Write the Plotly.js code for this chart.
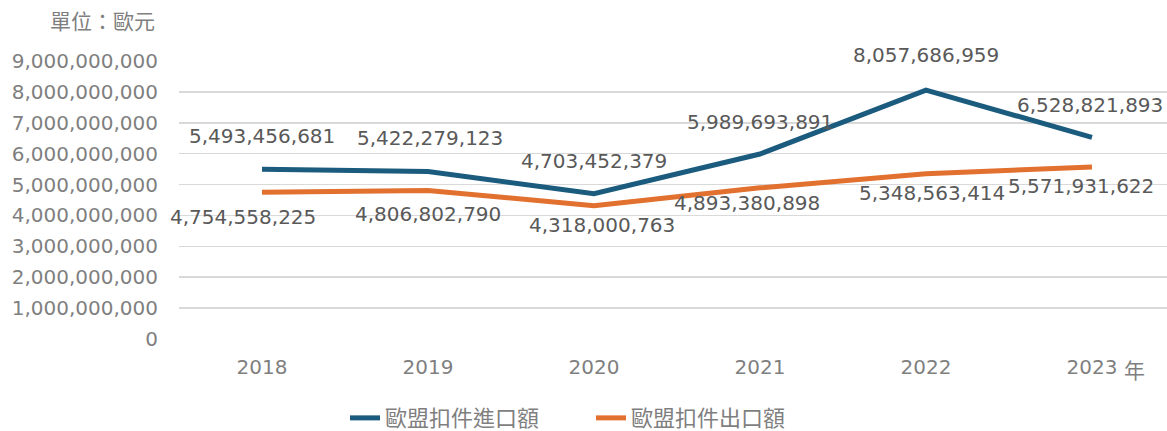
<!DOCTYPE html>
<html>
<head>
<meta charset="utf-8">
<script src="https://cdn.plot.ly/plotly-3.0.1.min.js"></script>
<style>html,body{margin:0;padding:0;background:#fff;}#chart{width:1167px;height:431px;}</style>
</head>
<body>
<div id="chart"></div>
<script>
const years = ['2018', '2019', '2020', '2021', '2022', '2023'];
const importValues = [5493456681, 5422279123, 4703452379, 5989693891, 8057686959, 6528821893];
const exportValues = [4754558225, 4806802790, 4318000763, 4893380898, 5348563414, 5571931622];
const importName = '歐盟扣件進口額';
const exportName = '歐盟扣件出口額';
const yTicks = [0, 1e9, 2e9, 3e9, 4e9, 5e9, 6e9, 7e9, 8e9, 9e9];

// label offsets (px)
const importLabelDx = [0, 2, 0, 0, 0, -2];
const importLabelDy = [33, 34, 33, 32, 35, 32];
const exportLabelDx = [-19, 0, 8, -13, 6, -11];
const exportLabelDy = [-25, -23, -19, -15, -19, -19];

const numFont = 'DejaVu Sans, Noto Sans CJK TC, sans-serif';
const cjkFont = 'Noto Sans CJK TC, DejaVu Sans, sans-serif';
const fmt = v => v.toLocaleString('en-US');

const traces = [
  {x: years, y: importValues, name: importName, type: 'scatter', mode: 'lines',
   line: {color: '#1A5B7E', width: 5}, hoverinfo: 'skip'},
  {x: years, y: exportValues, name: exportName, type: 'scatter', mode: 'lines',
   line: {color: '#E2702F', width: 5}, hoverinfo: 'skip'}
];

const annotations = [];
years.forEach((yr, i) => {
  annotations.push({x: i, y: importValues[i], xref: 'x', yref: 'y', text: fmt(importValues[i]),
    showarrow: false, xshift: importLabelDx[i], yshift: importLabelDy[i],
    font: {family: numFont, size: 20, color: '#595959'}});
  annotations.push({x: i, y: exportValues[i], xref: 'x', yref: 'y', text: fmt(exportValues[i]),
    showarrow: false, xshift: exportLabelDx[i], yshift: exportLabelDy[i],
    font: {family: numFont, size: 20, color: '#595959'}});
});
annotations.push({xref: 'paper', yref: 'paper', x: -0.0223, y: 1.1475, xanchor: 'right', yanchor: 'middle',
  text: '單位：歐元', showarrow: false, font: {family: cjkFont, size: 21, color: '#7F7F7F'}});
annotations.push({xref: 'paper', yref: 'paper', x: 0.9666, y: -0.108, xanchor: 'center', yanchor: 'middle',
  text: '年', showarrow: false, font: {family: cjkFont, size: 21, color: '#7F7F7F'}});

const layout = {
  width: 1167, height: 431,
  margin: {l: 179, r: 0, t: 61, b: 92, pad: 0, autoexpand: false},
  paper_bgcolor: '#ffffff', plot_bgcolor: '#ffffff',
  showlegend: true,
  legend: {orientation: 'h', x: 0.417, xanchor: 'center', yref: 'container', y: 0.03, yanchor: 'middle',
    font: {family: cjkFont, size: 22, color: '#7F7F7F'}, entrywidth: 201},
  xaxis: {type: 'category', range: [-0.5, 5.452], showgrid: false, zeroline: false, showline: false,
    ticks: '', tickfont: {family: numFont, size: 20, color: '#7F7F7F'}, ticklabelstandoff: 14},
  yaxis: {range: [0, 9e9], tickvals: yTicks, ticktext: yTicks.map(fmt), showgrid: true,
    gridcolor: '#D9D9D9', gridwidth: 1.5, zeroline: false, showline: false, ticks: '',
    tickfont: {family: numFont, size: 20, color: '#7F7F7F'}, ticklabelstandoff: 20},
  annotations: annotations
};

Plotly.newPlot('chart', traces, layout, {displayModeBar: false, staticPlot: true});
</script>
</body>
</html>
